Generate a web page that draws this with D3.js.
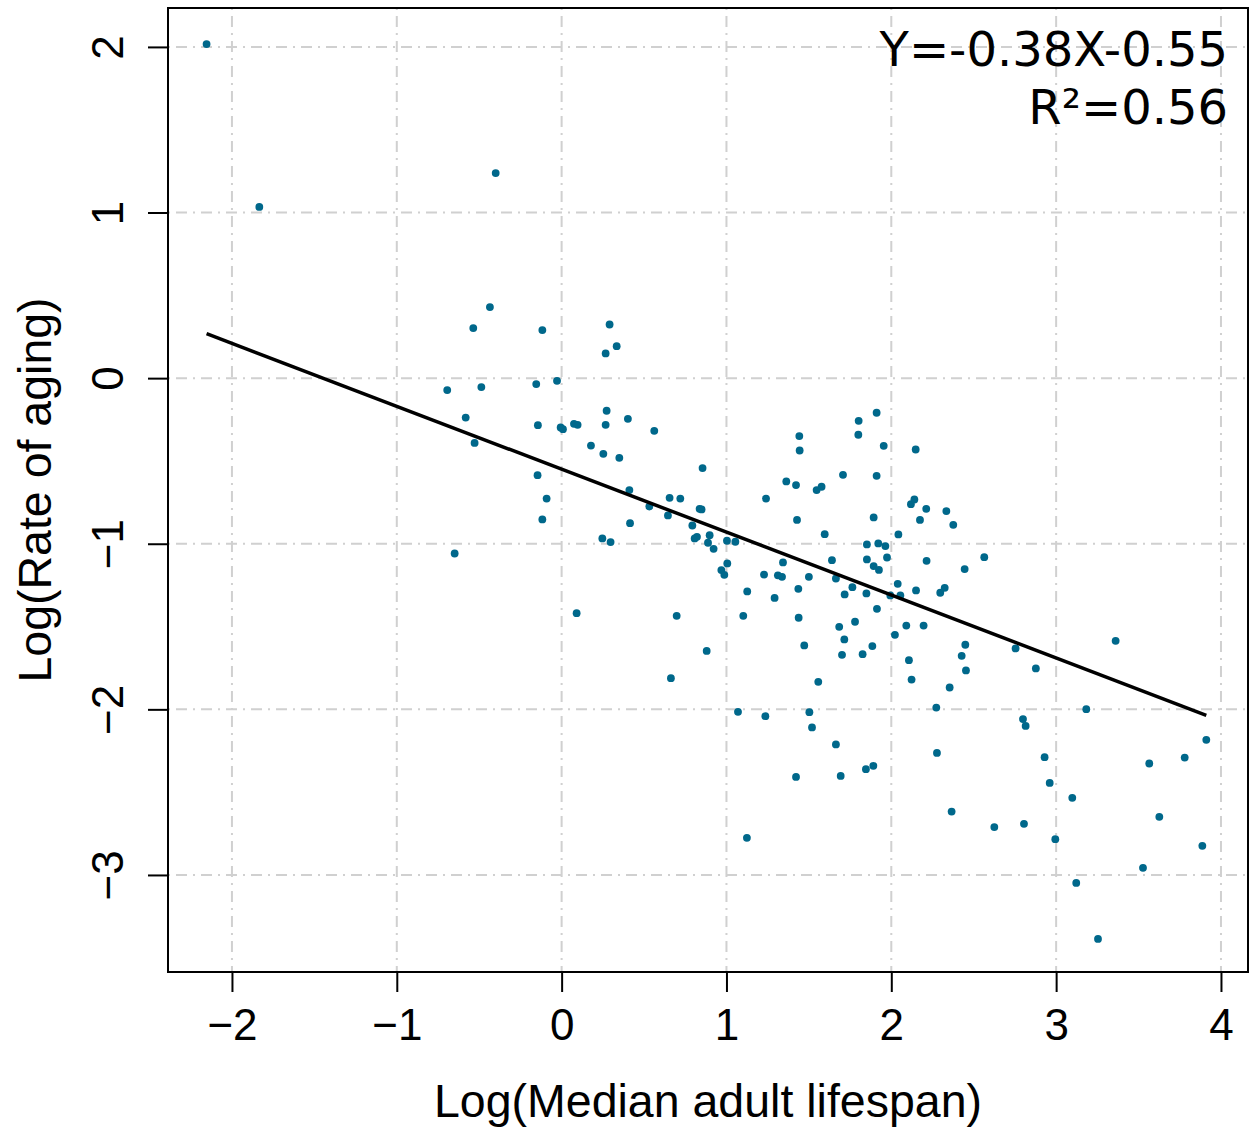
<!DOCTYPE html>
<html>
<head>
<meta charset="utf-8">
<script src="https://cdn.jsdelivr.net/npm/d3@7"></script>
<style>
  body { margin: 0; background: #fff; }
  svg { display: block; }
  .tick text { font-family: "Liberation Sans", Arial, sans-serif; }
</style>
</head>
<body>
<svg id="chart" width="1250" height="1130"></svg>
<script>
// log(median adult lifespan)
var lifespan = [
  -2.154, -1.834, -0.400, -0.435, -0.536, -0.117, 0.291, 0.334, 0.267, -0.694,
  -0.487, -0.154, -0.028, -0.582, -0.528, -0.144, -0.006, 0.008, 0.075, 0.097,
  0.273, 0.267, 0.402, 0.562, 0.178, 0.253, 0.350, 0.855, -0.146, -0.091,
  -0.117, 0.411, 0.655, 0.720, 0.532, 0.645, 0.837, 0.849, 0.793, 0.898,
  0.807, 0.821, 0.888, 0.922, 0.247, 0.297, -0.649, 0.415, 0.091, 1.003,
  1.054, 1.005, 0.969, 0.987, 0.698, 0.880, 1.102, 1.126, 1.228, 1.292,
  1.312, 1.337, 1.343, 1.240, 1.363, 1.422, 1.442, 1.444, 1.428, 1.547,
  1.577, 1.596, 1.500, 1.436, 1.438, 1.472, 1.640, 1.664, 1.717, 1.764,
  1.849, 1.913, 1.684, 1.780, 1.715, 1.701, 1.826, 1.885, 1.707, 1.802,
  1.800, 1.911, 1.954, 1.911, 1.893, 1.852, 1.921, 1.964, 1.974, 1.852,
  1.893, 1.925, 1.994, 2.148, 2.119, 2.140, 2.212, 2.174, 2.334, 2.376,
  2.043, 2.214, 2.445, 2.564, 2.039, 2.055, 2.150, 2.297, 2.324, 2.091,
  2.196, 2.022, 2.449, 2.754, 2.427, 2.107, 2.453, 2.123, 2.354, 2.273,
  0.663, 1.557, 1.070, 1.236, 1.503, 1.519, 1.664, 2.277, 1.422, 1.693,
  1.846, 1.891, 1.124, 2.366, 2.625, 2.877, 3.361, 3.183, 2.799, 2.815,
  2.930, 2.961, 3.098, 2.805, 2.995, 3.122, 3.254, 3.911, 3.780, 3.565,
  3.626, 3.887, 3.527
];
// log(rate of aging), same order
var agingRate = [
  2.017, 1.034, 1.238, 0.429, 0.302, 0.290, 0.324, 0.193, 0.149, -0.072,
  -0.054, -0.036, -0.016, -0.238, -0.391, -0.284, -0.298, -0.308, -0.276, -0.282,
  -0.197, -0.282, -0.246, -0.318, -0.407, -0.457, -0.481, -0.543, -0.586, -0.727,
  -0.853, -0.676, -0.723, -0.727, -0.775, -0.829, -0.789, -0.793, -0.890, -0.948,
  -0.968, -0.958, -0.994, -1.031, -0.968, -0.990, -1.059, -0.876, -1.419, -0.982,
  -0.988, -1.119, -1.159, -1.188, -1.435, -1.647, -1.435, -1.288, -1.186, -1.327,
  -1.191, -1.200, -1.113, -0.727, -0.624, -0.646, -0.350, -0.437, -0.856, -0.676,
  -0.656, -0.942, -1.200, -1.272, -1.447, -1.614, -1.099, -1.210, -1.306, -1.262,
  -1.300, -1.393, -1.502, -1.471, -1.578, -1.671, -1.667, -1.618, -0.584, -0.258,
  -0.342, -0.209, -0.409, -0.590, -0.841, -1.004, -0.998, -1.014, -1.083, -1.095,
  -1.135, -1.158, -1.312, -0.431, -0.761, -0.733, -0.789, -0.856, -0.803, -0.886,
  -0.944, -1.103, -1.153, -1.081, -1.242, -1.312, -1.282, -1.296, -1.266, -1.494,
  -1.494, -1.550, -1.610, -1.632, -1.677, -1.703, -1.765, -1.820, -1.868, -1.989,
  -1.812, -1.834, -2.015, -2.041, -2.017, -2.109, -2.212, -2.263, -2.408, -2.402,
  -2.361, -2.341, -2.776, -2.617, -2.711, -1.753, -1.586, -1.999, -2.059, -2.100,
  -2.289, -2.444, -2.534, -2.691, -2.784, -3.048, -3.386, -2.184, -2.291, -2.327,
  -2.649, -2.824, -2.957
];
var xTicks = [-2, -1, 0, 1, 2, 3, 4];
var yTicks = [-3, -2, -1, 0, 1, 2];
var slope = -0.38, intercept = -0.55, r2 = 0.56;

var svg = d3.select("#chart");
var box = {left: 168, right: 1248, top: 8, bottom: 972};
var fmt = d3.format("d");

var x = d3.scaleLinear().domain([-2.388, 4.164]).range([box.left, box.right]);
var y = d3.scaleLinear().domain([-3.586, 2.235]).range([box.bottom, box.top]);

// grid
var grid = svg.append("g")
    .attr("stroke", "#d0d0d0")
    .attr("stroke-width", 2)
    .attr("stroke-dasharray", "2,6,11,6");
grid.selectAll("line.vx")
  .data(xTicks)
  .enter().append("line")
    .attr("x1", d => x(d)).attr("x2", d => x(d))
    .attr("y1", box.top).attr("y2", box.bottom);
grid.selectAll("line.hy")
  .data(yTicks)
  .enter().append("line")
    .attr("y1", d => y(d)).attr("y2", d => y(d))
    .attr("x1", box.left).attr("x2", box.right);

// points
var pts = lifespan.map((v, i) => [v, agingRate[i]]);
svg.append("g")
  .selectAll("circle")
  .data(pts)
  .enter().append("circle")
    .attr("cx", d => x(d[0]))
    .attr("cy", d => y(d[1]))
    .attr("r", 3.9)
    .attr("fill", "#00688b");

// fitted line over the data range
var xr = d3.extent(lifespan);
svg.append("line")
    .attr("x1", x(xr[0])).attr("y1", y(slope * xr[0] + intercept))
    .attr("x2", x(xr[1])).attr("y2", y(slope * xr[1] + intercept))
    .attr("stroke", "#000")
    .attr("stroke-width", 3.5);

// box
svg.append("rect")
    .attr("x", box.left).attr("y", box.top)
    .attr("width", box.right - box.left).attr("height", box.bottom - box.top)
    .attr("fill", "none").attr("stroke", "#000").attr("stroke-width", 2);

// axes
var xAxis = svg.append("g")
    .attr("transform", "translate(0," + box.bottom + ")")
    .call(d3.axisBottom(x).tickValues(xTicks).tickSize(20).tickPadding(17).tickFormat(fmt));
xAxis.select(".domain").remove();
xAxis.selectAll(".tick line").attr("stroke-width", 2);
xAxis.selectAll(".tick text").attr("font-size", 44).attr("fill", "#000");

var yAxis = svg.append("g")
    .attr("transform", "translate(" + box.left + ",0)")
    .call(d3.axisLeft(y).tickValues(yTicks).tickSize(20).tickFormat(""));
yAxis.select(".domain").remove();
yAxis.selectAll(".tick line").attr("stroke-width", 2);
yAxis.selectAll(".tick").append("text")
    .attr("transform", "translate(-45,0) rotate(-90)")
    .attr("text-anchor", "middle")
    .attr("font-size", 44)
    .attr("fill", "#000")
    .text(d => fmt(d));

// titles
svg.append("text")
    .attr("x", (box.left + box.right) / 2)
    .attr("y", 1117)
    .attr("text-anchor", "middle")
    .attr("font-family", "Liberation Sans, Arial, sans-serif")
    .attr("font-size", 46.5)
    .text("Log(Median adult lifespan)");

svg.append("text")
    .attr("transform", "translate(51," + (box.top + box.bottom) / 2 + ") rotate(-90)")
    .attr("text-anchor", "middle")
    .attr("font-family", "Liberation Sans, Arial, sans-serif")
    .attr("font-size", 46.5)
    .text("Log(Rate of aging)");

// equation
var eq = svg.append("g")
    .attr("font-family", "DejaVu Sans, sans-serif")
    .attr("font-size", 48)
    .attr("text-anchor", "end");
eq.append("text").attr("x", 1228).attr("y", 66)
    .text("Y=" + slope.toFixed(2) + "X" + intercept.toFixed(2));
eq.append("text").attr("x", 1228).attr("y", 124)
    .text("R\u00b2=" + r2.toFixed(2));
</script>
</body>
</html>
